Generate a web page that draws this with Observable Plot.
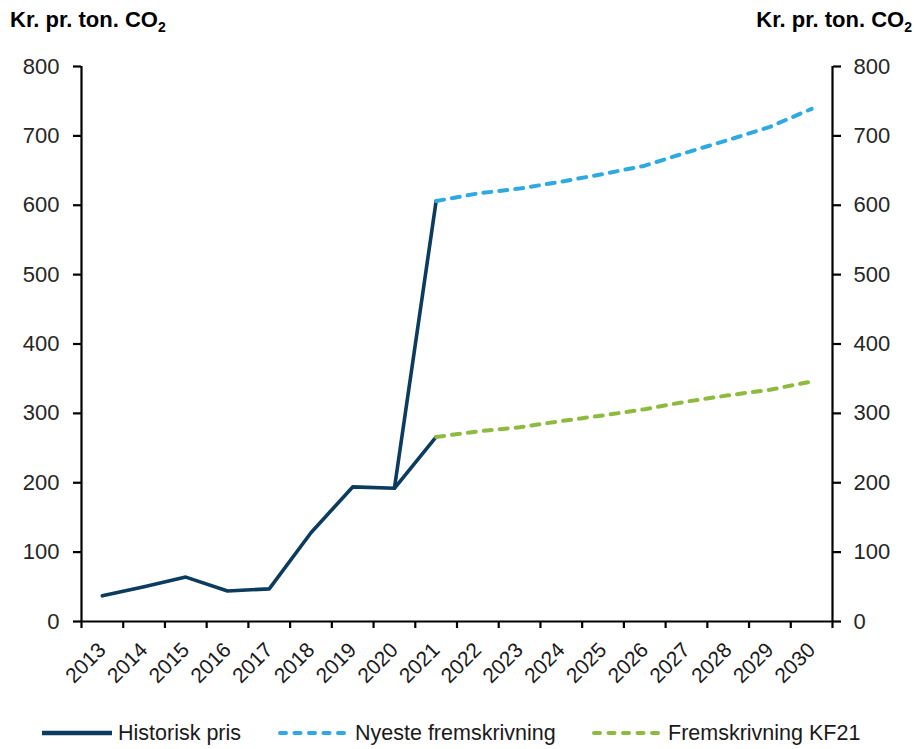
<!DOCTYPE html>
<html><head><meta charset="utf-8">
<script src="https://cdn.jsdelivr.net/npm/d3@7"></script>
<script src="https://cdn.jsdelivr.net/npm/@observablehq/plot@0.6"></script>
<style>
body{margin:0;background:#fff;font-family:"Liberation Sans",Arial,sans-serif;}
#wrap{position:relative;width:914px;height:749px;overflow:hidden;}
#chart{position:absolute;left:0;top:0;}
.title{position:absolute;top:7px;font-weight:bold;font-size:22px;line-height:25px;color:#000;white-space:nowrap;}
.title sub{font-size:14px;vertical-align:baseline;position:relative;top:5px;}
.leg{position:absolute;top:721px;height:24px;display:flex;align-items:center;font-size:21.5px;color:#1a1a1a;white-space:nowrap;}
</style>
</head><body>
<div id="wrap">
  <div id="chart"></div>
  <div class="title" style="left:10px;">Kr. pr. ton. CO<sub>2</sub></div>
  <div class="title" style="right:2px;">Kr. pr. ton. CO<sub>2</sub></div>
  <div id="legend"></div>
</div>
<script>
// ---- data ----
const years = [2013,2014,2015,2016,2017,2018,2019,2020,2021,2022,2023,2024,2025,2026,2027,2028,2029,2030];
const yTicks = [0,100,200,300,400,500,600,700,800];

const histYears  = [2013,2014,2015,2016,2017,2018,2019,2020,2021];
const histValues = [37, 50, 64, 44, 47, 128, 194, 192, 266];

const projYears   = [2021,2022,2023,2024,2025,2026,2027,2028,2029,2030];
const nyesteVals  = [606, 617, 624, 634, 645, 657, 676, 694, 713, 739];
const kf21Vals    = [266, 274, 280, 289, 297, 306, 317, 326, 334, 346];

const seriesNames  = ["Historisk pris", "Nyeste fremskrivning", "Fremskrivning KF21"];
const seriesColors = ["#0b3b5e", "#2eaae1", "#8dbb3f"];

// ---- tables ----
const hist = histYears.map((x, i) => ({x, y: histValues[i]}));
// historic line also joins the latest projection start
const histLink = [
  {x: histYears[histYears.length - 2], y: histValues[histValues.length - 2]},
  {x: projYears[0], y: nyesteVals[0]}
];
const nyeste = projYears.map((x, i) => ({x, y: nyesteVals[i]}));
const kf21 = projYears.map((x, i) => ({x, y: kf21Vals[i]}));

const xMin = years[0] - 0.5, xMax = years[years.length - 1] + 0.5;
const boundaries = d3.range(xMin, xMax + 0.01, 1);
const dash = "8,8";

const chart = Plot.plot({
  width: 914,
  height: 700,
  marginTop: 66,
  marginBottom: 79,
  marginLeft: 81,
  marginRight: 82,
  style: {fontFamily: '"Liberation Sans", Arial, sans-serif', background: "#fff", overflow: "visible"},
  x: {type: "linear", domain: [xMin, xMax]},
  y: {domain: [0, 800]},
  marks: [
    Plot.line(hist, {x: "x", y: "y", stroke: seriesColors[0], strokeWidth: 3.6}),
    Plot.line(histLink, {x: "x", y: "y", stroke: seriesColors[0], strokeWidth: 3.6}),
    Plot.line(nyeste, {x: "x", y: "y", stroke: seriesColors[1], strokeWidth: 4, strokeDasharray: dash, strokeLinecap: "round"}),
    Plot.line(kf21, {x: "x", y: "y", stroke: seriesColors[2], strokeWidth: 4, strokeDasharray: dash, strokeLinecap: "round"}),
    Plot.ruleX([xMin, xMax], {y1: 0, y2: 800, stroke: "#000", strokeWidth: 2.2}),
    Plot.ruleY([0], {stroke: "#000", strokeWidth: 2.2}),
    Plot.axisX(boundaries, {label: null, tickSize: 7, tickFormat: () => "", stroke: "#000", strokeWidth: 2.2}),
    Plot.axisX(years, {label: null, tickSize: 0, tickPadding: 25, tickRotate: -45, textAnchor: "end", lineAnchor: "middle",
      fontSize: 21, fill: "#1a1a1a", tickFormat: d => String(d)}),
    Plot.axisY(yTicks, {label: null, anchor: "left", tickSize: 8, tickPadding: 14, fontSize: 22, fill: "#262626",
      stroke: "#000", strokeWidth: 2.2, tickFormat: d => String(d)}),
    Plot.axisY(yTicks, {label: null, anchor: "right", tickSize: 8, tickPadding: 13, fontSize: 22, fill: "#262626",
      stroke: "#000", strokeWidth: 2.2, tickFormat: d => String(d)})
  ]
});
document.getElementById("chart").appendChild(chart);

// ---- legend ----
const legPos = [{left: 42, w: 70, gap: 6}, {left: 278, w: 69, gap: 8}, {left: 592, w: 71, gap: 5}];
const legend = document.getElementById("legend");
seriesNames.forEach((name, i) => {
  const d = document.createElement("div");
  d.className = "leg";
  d.style.left = legPos[i].left + "px";
  const w = legPos[i].w;
  const dashed = i > 0;
  d.innerHTML = `<svg width="${w}" height="10" style="margin-right:${legPos[i].gap}px"><line x1="${dashed ? 2 : 0}" x2="${dashed ? w - 2 : w}" y1="5" y2="5" stroke="${seriesColors[i]}" stroke-width="${dashed ? 4 : 4.5}" ${dashed ? `stroke-dasharray="6,8.5" stroke-linecap="round"` : ""}/></svg><span>${name}</span>`;
  legend.appendChild(d);
});
</script>
</body></html>
